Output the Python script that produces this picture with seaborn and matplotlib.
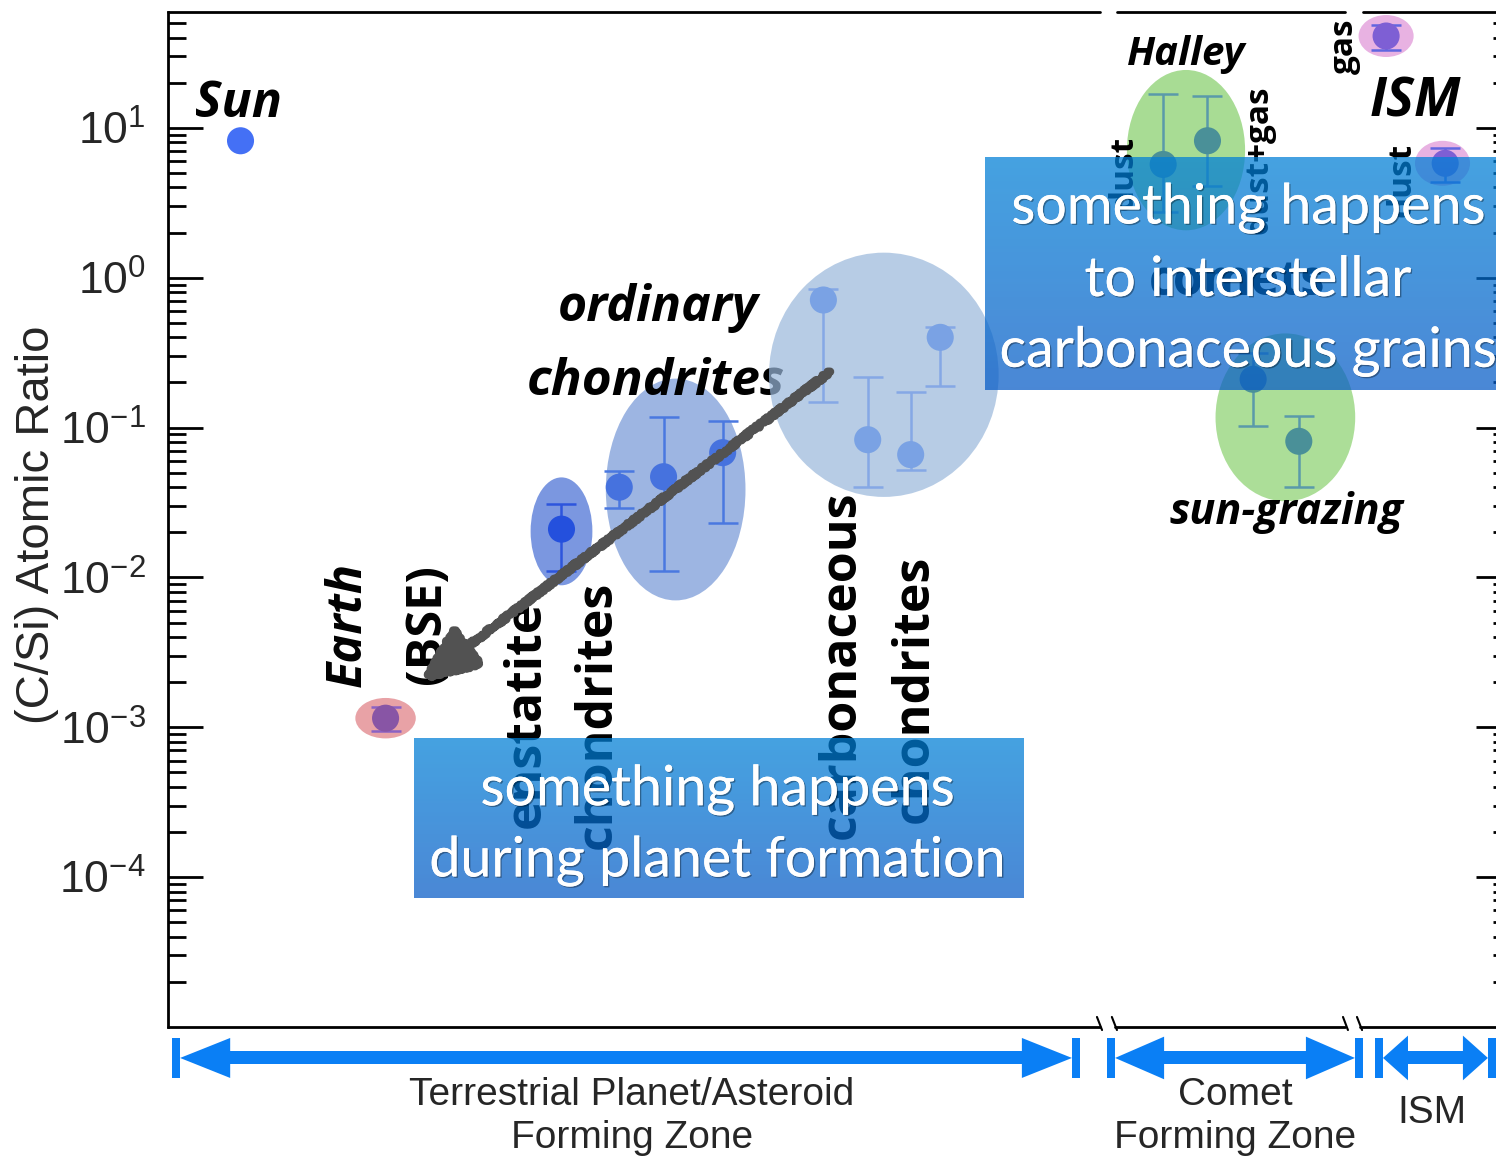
import numpy as np
import pandas as pd
import matplotlib
matplotlib.use("Agg")
import matplotlib.pyplot as plt
import seaborn as sns
from matplotlib.patches import Ellipse, Polygon
from matplotlib.ticker import LogLocator, NullFormatter
import matplotlib.transforms as mtransforms
import matplotlib.patheffects as pe

# ---------------- data ----------------
groups = ["Sun", "Earth", "enstatite",
          "ordinary", "ordinary", "ordinary",
          "carbonaceous", "carbonaceous", "carbonaceous", "carbonaceous",
          "Halley", "Halley", "sun-grazing", "sun-grazing", "ISM", "ISM"]
x_pos = [5.4, 16.2, 29.3,
         33.6, 36.9, 41.3,
         48.8, 52.1, 55.3, 57.5,
         74.1, 77.4, 80.8, 84.2, 90.7, 95.1]
c_si = [8.2, 1.15e-3, 0.021,
        0.040, 0.047, 0.068,
        0.71, 0.083, 0.066, 0.40,
        5.7, 8.2, 0.21, 0.081, 41.0, 5.8]
c_si_low = [np.nan, 0.94e-3, 0.011,
            0.029, 0.011, 0.023,
            0.149, 0.040, 0.0525, 0.19,
            2.75, 4.1, 0.103, 0.040, 33.1, 4.37]
c_si_high = [np.nan, 1.36e-3, 0.031,
             0.051, 0.118, 0.11,
             0.845, 0.219, 0.174, 0.471,
             16.9, 16.3, 0.316, 0.12, 48.6, 7.36]

ytick_values = [1e-4, 1e-3, 1e-2, 1e-1, 1e0, 1e1]
ytick_labels = [r"$10^{-4}$", r"$10^{-3}$", r"$10^{-2}$", r"$10^{-1}$", r"$10^{0}$", r"$10^{1}$"]

zone_names = ["Terrestrial Planet/Asteroid\nForming Zone", "Comet\nForming Zone", "ISM"]

# ---------------- style ----------------
sns.set_theme(style="white")
plt.rcParams["font.family"] = ["Liberation Sans", "DejaVu Sans"]
plt.rcParams["mathtext.fontset"] = "custom"
plt.rcParams["mathtext.rm"] = "Liberation Sans"
plt.rcParams["mathtext.it"] = "Liberation Sans"

point_colors = {"Sun": "#4470f5", "Earth": "#8855a5", "enstatite": "#2450dd",
                "ordinary": "#4672de", "carbonaceous": "#7aa2e4",
                "Halley": "#4a9098", "sun-grazing": "#4a9098", "ISM": "#7e5fd4"}
bar_colors = {"Earth": "#8a62c4", "enstatite": "#2d55dd", "ordinary": "#4a78e0",
              "carbonaceous": "#85a8e5", "Halley": "#5a9aaa", "sun-grazing": "#5a9aaa",
              "ISM": "#6066e0"}

YMIN, YMAX = 1e-5, 59.3
W, H = 1496, 1157
fig = plt.figure(figsize=(W / 100, H / 100), dpi=100)
ax_left, ax_right, ax_top, ax_bot = 168, 1511, 12, 1027
ax = fig.add_axes([ax_left / W, 1 - ax_bot / H, (ax_right - ax_left) / W, (ax_bot - ax_top) / H])
ax.set_yscale("log")
ax.set_xlim(0, 100)
ax.set_ylim(YMIN, YMAX)
ax.set_facecolor("white")

ndec = np.log10(YMAX) - np.log10(YMIN)


def to_axes(x, y):
    return (x / 100.0, (np.log10(y) - np.log10(YMIN)) / ndec)


# halo ellipses behind each family of points: (x, y, width [x units], height [decades], colour, alpha, z)
halos = [
    (16.2, 1.15e-3, 4.5, 0.27, "#e8a2a6", 1.0, 1),
    (29.3, 0.0203, 4.6, 0.72, "#7b97e0", 1.0, 1),
    (37.8, 0.0386, 10.4, 1.48, "#9db5e2", 1.0, 1),
    (53.3, 0.225, 17.1, 1.63, "#99b7db", 0.7, 6),
    (75.8, 7.1, 8.8, 1.07, "#a8dc94", 1.0, 1),
    (83.2, 0.117, 10.4, 1.12, "#acde98", 1.0, 1),
    (90.7, 41.0, 4.1, 0.28, "#e8b2e2", 1.0, 1),
    (94.9, 5.8, 4.1, 0.30, "#e8b2e2", 1.0, 1),
]
for hx, hy, hw, hh, hc, ha, hz in halos:
    cx, cy = to_axes(hx, hy)
    ax.add_patch(Ellipse((cx, cy), hw / 100.0, hh / ndec, transform=ax.transAxes,
                         facecolor=hc, edgecolor="none", alpha=ha, zorder=hz))

df = pd.DataFrame({"group": groups, "x": x_pos, "ratio": c_si,
                   "low": c_si_low, "high": c_si_high})

# error bars
for g, sub in df.dropna().groupby("group"):
    ax.errorbar(sub["x"], sub["ratio"],
                yerr=[sub["ratio"] - sub["low"], sub["high"] - sub["ratio"]],
                fmt="none", ecolor=bar_colors[g], elinewidth=1.8, capsize=11,
                capthick=1.8, zorder=7)

sns.scatterplot(data=df, x="x", y="ratio", hue="group", palette=point_colors,
                s=380, edgecolor="none", legend=False, ax=ax, zorder=8)

# ---------------- axes decoration ----------------
for s in ["top", "bottom", "right"]:
    ax.spines[s].set_visible(False)
ax.spines["left"].set_linewidth(2)
ax.spines["left"].set_color("black")
ax.set_xticks([])
ax.set_xlabel("")
ax.set_yticks(ytick_values, ytick_labels)
ax.yaxis.set_minor_locator(LogLocator(base=10, subs=np.arange(2, 10), numticks=100))
ax.yaxis.set_minor_formatter(NullFormatter())
ax.tick_params(axis="y", which="major", direction="in", length=25, width=2,
               left=True, right=True, labelsize=32, pad=16, color="black")
ax.tick_params(axis="y", which="minor", direction="in", length=13, width=2,
               left=True, right=True, color="black")
ax.set_ylabel("(C/Si) Atomic Ratio", fontsize=34)
ax.yaxis.set_label_coords(-0.0815, 0.4946)

blend = mtransforms.blended_transform_factory(ax.transData, ax.transAxes)
# broken top and bottom frame
for x0, x1 in [(0, 69.4), (70.66, 87.64), (88.98, 100)]:
    ax.plot([x0, x1], [1, 1], color="black", lw=2, transform=blend, clip_on=False, zorder=9)
for x0, x1 in [(0, 69.4), (70.5, 87.64), (88.76, 100)]:
    ax.plot([x0, x1], [0, 0], color="black", lw=2, transform=blend, clip_on=False, zorder=9)
for x0, x1 in [(69.17, 69.55), (70.28, 70.66), (87.49, 87.86), (88.53, 88.91)]:
    ax.plot([x0, x1], [0.0099, -0.003], color="black", lw=1.5, transform=blend,
            clip_on=False, zorder=9)


# zone arrows under the plot
def zone_arrow(x0, x1, head_len, head_half):
    yc, half_shaft, bar_w, bar_half = -0.0305, 0.0064, 0.6, 0.0197
    col = "#0a7ff5"
    polys = [
        [(x0, yc - bar_half), (x0 + bar_w, yc - bar_half), (x0 + bar_w, yc + bar_half), (x0, yc + bar_half)],
        [(x1 - bar_w, yc - bar_half), (x1, yc - bar_half), (x1, yc + bar_half), (x1 - bar_w, yc + bar_half)],
        [(x0 + bar_w, yc), (x0 + bar_w + head_len, yc + head_half), (x0 + bar_w + head_len, yc - head_half)],
        [(x1 - bar_w, yc), (x1 - bar_w - head_len, yc + head_half), (x1 - bar_w - head_len, yc - head_half)],
        [(x0 + bar_w + head_len, yc - half_shaft), (x1 - bar_w - head_len, yc - half_shaft),
         (x1 - bar_w - head_len, yc + half_shaft), (x0 + bar_w + head_len, yc + half_shaft)],
    ]
    for p in polys:
        ax.add_patch(Polygon(p, closed=True, facecolor=col, edgecolor="none",
                             transform=blend, clip_on=False))


zone_arrow(0.30, 67.91, 3.73, 0.0197)
zone_arrow(69.92, 88.98, 3.65, 0.021)
zone_arrow(89.87, 98.88, 1.86, 0.022)

zone_font = dict(family=["Liberation Sans Narrow", "Liberation Sans"], fontsize=28,
                 ha="center", va="center", linespacing=1.26, transform=blend, clip_on=False)
ax.text(34.55, -0.0885, zone_names[0], **zone_font)
ax.text(79.45, -0.0885, zone_names[1], **zone_font)
ax.text(94.1, -0.0847, zone_names[2], **zone_font)

# ---------------- annotations ----------------
lab = dict(family=["Open Sans", "DejaVu Sans"], fontweight="bold", color="black", zorder=5)
ax.text(2.0, 10 ** 1.16, "Sun", fontsize=36, style="italic", ha="left", va="center", **lab)
ax.text(36.5, 10 ** -0.2, "ordinary", fontsize=36, style="italic", ha="center", va="center", **lab)
ax.text(36.3, 10 ** -0.693, "chondrites", fontsize=37, style="italic", ha="center", va="center", **lab)
ax.text(13.4, 10 ** -2.313, "Earth", fontsize=35, style="italic", rotation=90, ha="center", va="center", **lab)
ax.text(19.3, 10 ** -2.313, "(BSE)", fontsize=35, rotation=90, ha="center", va="center", **lab)
ax.text(26.7, 10 ** -2.913, "enstatite", fontsize=36, rotation=90, ha="center", va="center", **lab)
ax.text(32.0, 10 ** -2.92, "chondrites", fontsize=36, rotation=90, ha="center", va="center", **lab)
ax.text(50.2, 10 ** -2.58, "carbonaceous", fontsize=36, rotation=90, ha="center", va="center", **lab)
ax.text(55.6, 10 ** -2.747, "chondrites", fontsize=36, rotation=90, ha="center", va="center", **lab)
ax.text(75.8, 10 ** 1.487, "Halley", fontsize=29, style="italic", ha="center", va="center", **lab)
ax.text(71.2, 10 ** 0.70, "dust", fontsize=24, rotation=90, ha="center", va="center", **lab)
ax.text(81.2, 10 ** 0.787, "dust+gas", fontsize=24, rotation=90, ha="center", va="center", **lab)
ax.text(87.6, 10 ** 1.547, "gas", fontsize=24, rotation=90, ha="center", va="center", **lab)
ax.text(92.9, 10 ** 1.167, "ISM", fontsize=38, style="italic", ha="center", va="center", **lab)
ax.text(91.9, 10 ** 0.65, "dust", fontsize=24, rotation=90, ha="center", va="center", **lab)
ax.text(83.3, 10 ** -1.567, "sun-grazing", fontsize=31, style="italic", ha="center", va="center", **lab)
ax.text(79.6, 10 ** -0.033, "comets", fontsize=35, ha="center", va="center", **lab)

# sketched arrow from the chondrites down to Earth
ann = ax.annotate("", xy=(18.8, 2.0e-3), xytext=(49.3, 0.236),
                  arrowprops=dict(arrowstyle="-|>,head_length=34,head_width=15",
                                  mutation_scale=1, lw=6, color="#525252",
                                  shrinkA=0, shrinkB=0), zorder=9)
ann.arrow_patch.set_sketch_params(scale=1.8, length=5, randomness=3)


# ---------------- call-out boxes ----------------
def callout(x0, y0, x1, y1, lines, ys, xc):
    bax = fig.add_axes([x0 / W, 1 - y1 / H, (x1 - x0) / W, (y1 - y0) / H])
    bax.patch.set_visible(False)
    top = np.array([0.00, 0.50, 0.84])
    bottom = np.array([0.03, 0.36, 0.78])
    t = np.linspace(0, 1, 64)[:, None]
    grad = top[None, :] * (1 - t) + bottom[None, :] * t
    img = np.dstack([grad[:, None, 0].repeat(2, 1), grad[:, None, 1].repeat(2, 1),
                     grad[:, None, 2].repeat(2, 1), np.full((64, 2), 0.73)])
    bax.imshow(img, aspect="auto", extent=[0, 1, 0, 1], interpolation="bilinear")
    bax.set_xlim(0, 1)
    bax.set_ylim(0, 1)
    bax.axis("off")
    for txt, yy in zip(lines, ys):
        bax.text(xc, yy, txt, fontsize=40, color="white", family=["Lato", "DejaVu Sans"],
                 ha="center", va="center",
                 path_effects=[pe.withSimplePatchShadow(offset=(1, -1), shadow_rgbFace="black", alpha=0.35),
                               pe.Normal()])


callout(985, 157, 1511, 390, ["something happens", "to interstellar", "carbonaceous grains"],
        [0.78, 0.47, 0.165], 0.5)
callout(414, 738, 1024, 898, ["something happens", "during planet formation"],
        [0.675, 0.23], 0.497)

fig.savefig("out.png", dpi=100, facecolor="white")
